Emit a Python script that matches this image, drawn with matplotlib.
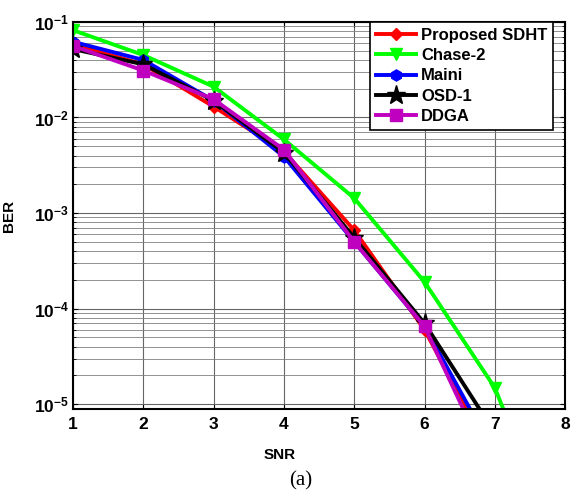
import matplotlib
matplotlib.use("Agg")
import matplotlib.pyplot as plt
import numpy as np
from matplotlib.ticker import LogLocator, FixedLocator, NullFormatter

# SNR points and BER curves
snr = [1, 2, 3, 4, 5, 6, 7]
snr_chase = [1, 2, 3, 4, 5, 6, 7, 8]
ber_sdht = [0.058, 0.036, 0.013, 0.0044, 6.6e-4, 6.0e-5, 2.5e-6]
ber_chase = [0.082, 0.045, 0.021, 0.0059, 1.43e-3, 1.9e-4, 1.48e-5, 2.1e-7]
ber_maini = [0.062, 0.040, 0.015, 0.0039, 5.0e-4, 6.5e-5, 3.0e-6]
ber_osd = [0.052, 0.036, 0.015, 0.0043, 5.5e-4, 7.0e-5, 5.0e-6]
ber_ddga = [0.056, 0.031, 0.0155, 0.0046, 5.0e-4, 6.5e-5, 1.75e-6]

labels = ["Proposed SDHT", "Chase-2", "Maini", "OSD-1", "DDGA"]

plt.rcParams['font.family'] = ['Liberation Sans', 'DejaVu Sans']

fig = plt.figure(figsize=(5.73, 4.95), dpi=100)
ax = fig.add_axes([0.1274, 0.1737, 0.859, 0.782])

ax.semilogy(snr, ber_sdht, color='#ff0000', marker='D', ms=6, lw=2.8, label=labels[0])
ax.semilogy(snr_chase, ber_chase, color='#00ff00', marker='v', ms=9, lw=2.8, label=labels[1])
ax.semilogy(snr, ber_maini, color='#0000ff', marker='h', ms=8, lw=2.8, label=labels[2])
ax.semilogy(snr, ber_osd, color='#000000', marker='*', ms=14, lw=2.8, label=labels[3])
ax.semilogy(snr, ber_ddga, color='#bf00bf', marker='s', ms=8, lw=2.8, label=labels[4])

ax.set_xlim(1, 8)
ax.set_ylim(8.9e-6, 0.1)
ax.xaxis.set_major_locator(FixedLocator(range(1, 9)))
ax.yaxis.set_major_locator(LogLocator(base=10, numticks=10))
ax.yaxis.set_minor_locator(LogLocator(base=10, subs=np.arange(2, 10), numticks=20))
ax.yaxis.set_minor_formatter(NullFormatter())

ax.grid(True, which='major', color='#666666', lw=0.8)
ax.grid(True, which='minor', axis='y', color='#808080', lw=0.6)
ax.tick_params(which='both', direction='in', top=True, right=True, labelsize=12.5)
ax.tick_params(axis='x', pad=6)
ax.tick_params(axis='y', pad=3)
for t in ax.get_xticklabels() + ax.get_yticklabels():
    t.set_fontweight('bold')
for s in ax.spines.values():
    s.set_linewidth(1.5)

ax.set_xlabel("SNR", fontsize=11, fontweight='bold')
ax.xaxis.set_label_coords(0.419, -0.1)
ax.set_ylabel("BER", fontsize=11, fontweight='bold')
ax.yaxis.set_label_coords(-0.115, 0.5)

leg = ax.legend(loc='upper right', bbox_to_anchor=(0.976, 1.0), prop={'weight': 'bold', 'size': 12},
                fancybox=False, edgecolor='black', framealpha=1, borderaxespad=0.0,
                handlelength=2.4, labelspacing=0.32, borderpad=0.35, handletextpad=0.3)
leg.get_frame().set_linewidth(1.2)

fig.text(0.525, 0.028, "(a)", fontsize=15, family=['Liberation Serif'], ha='center', va='center')

fig.savefig("out.png", dpi=100)
